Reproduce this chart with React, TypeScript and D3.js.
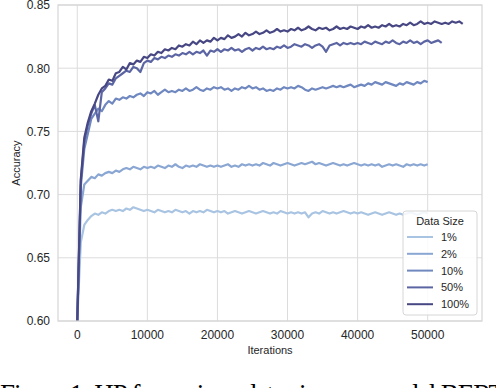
import React, { useRef, useEffect } from "react";
import * as d3 from "d3";

// logged every 500 iterations
const step = 500;
const sizeLabels = ["1%", "2%", "10%", "50%", "100%"];
const lineColors = ["#a8c4e2", "#8aa6d3", "#7088c0", "#5c65a3", "#474784"];

const acc1 = [
  0.600, 0.662, 0.676, 0.680, 0.683, 0.685, 0.684, 0.686, 0.685, 0.687, 0.688,
  0.687, 0.688, 0.687, 0.689, 0.688, 0.690, 0.689, 0.688, 0.687, 0.688,
  0.687, 0.686, 0.688, 0.687, 0.686, 0.687, 0.686, 0.688, 0.687, 0.686,
  0.687, 0.685, 0.687, 0.686, 0.687, 0.686, 0.688, 0.687, 0.686, 0.687,
  0.686, 0.687, 0.685, 0.686, 0.687, 0.686, 0.685, 0.686, 0.687, 0.686,
  0.685, 0.686, 0.687, 0.686, 0.685, 0.686, 0.685, 0.687, 0.686, 0.685,
  0.686, 0.685, 0.686, 0.685, 0.686, 0.682, 0.685, 0.686, 0.685, 0.687,
  0.686, 0.685, 0.686, 0.685, 0.686, 0.687, 0.686, 0.685, 0.686, 0.685,
  0.686, 0.685, 0.684, 0.685, 0.686, 0.685, 0.684, 0.685, 0.686, 0.685,
  0.684, 0.685, 0.684, 0.685, 0.686, 0.685, 0.684, 0.685, 0.686, 0.685,
];
const acc2 = [
  0.600, 0.690, 0.708, 0.711, 0.714, 0.713, 0.716, 0.715, 0.717, 0.718, 0.717,
  0.719, 0.718, 0.720, 0.721, 0.720, 0.722, 0.721, 0.720, 0.722, 0.721,
  0.722, 0.721, 0.723, 0.722, 0.721, 0.723, 0.722, 0.724, 0.722, 0.721,
  0.723, 0.722, 0.723, 0.722, 0.724, 0.723, 0.722, 0.723, 0.722, 0.723,
  0.722, 0.723, 0.724, 0.722, 0.723, 0.722, 0.724, 0.723, 0.724, 0.723,
  0.724, 0.723, 0.725, 0.724, 0.723, 0.725, 0.724, 0.723, 0.724, 0.725,
  0.724, 0.723, 0.724, 0.725, 0.724, 0.725, 0.726, 0.724, 0.725, 0.724,
  0.723, 0.724, 0.725, 0.724, 0.723, 0.724, 0.723, 0.724, 0.725, 0.724,
  0.723, 0.724, 0.723, 0.724, 0.723, 0.724, 0.722, 0.723, 0.724, 0.723,
  0.724, 0.723, 0.722, 0.724, 0.723, 0.724, 0.723, 0.724, 0.723, 0.724,
];
const acc10 = [
  0.600, 0.706, 0.736, 0.748, 0.760, 0.764, 0.768, 0.766, 0.771, 0.774, 0.772,
  0.776, 0.775, 0.777, 0.776, 0.778, 0.777, 0.779, 0.780, 0.778, 0.781,
  0.780, 0.782, 0.779, 0.781, 0.783, 0.781, 0.782, 0.781, 0.783, 0.782,
  0.784, 0.782, 0.783, 0.785, 0.783, 0.782, 0.784, 0.783, 0.785, 0.784,
  0.785, 0.783, 0.784, 0.782, 0.784, 0.783, 0.785, 0.784, 0.786, 0.784,
  0.785, 0.783, 0.784, 0.782, 0.783, 0.782, 0.784, 0.783, 0.785, 0.784,
  0.785, 0.784, 0.786, 0.785, 0.783, 0.782, 0.784, 0.783, 0.784, 0.785,
  0.784, 0.785, 0.786, 0.785, 0.786, 0.785, 0.786, 0.787, 0.785, 0.786,
  0.787, 0.786, 0.788, 0.787, 0.789, 0.788, 0.787, 0.789, 0.788, 0.787,
  0.786, 0.788, 0.787, 0.789, 0.788, 0.787, 0.789, 0.788, 0.790, 0.789,
];
const acc50 = [
  0.600, 0.710, 0.742, 0.755, 0.764, 0.771, 0.758, 0.781, 0.784, 0.788, 0.787,
  0.792, 0.794, 0.796, 0.798, 0.797, 0.801, 0.800, 0.797, 0.804, 0.806,
  0.805, 0.808, 0.807, 0.809, 0.808, 0.810, 0.809, 0.811, 0.810, 0.812,
  0.811, 0.813, 0.811, 0.813, 0.812, 0.814, 0.810, 0.814, 0.813, 0.815,
  0.813, 0.815, 0.814, 0.816, 0.814, 0.815, 0.813, 0.815, 0.816, 0.814,
  0.816, 0.815, 0.817, 0.815, 0.816, 0.815, 0.817, 0.816, 0.818, 0.816,
  0.817, 0.819, 0.818, 0.817, 0.819, 0.818, 0.816, 0.818, 0.819, 0.817,
  0.813, 0.818, 0.819, 0.820, 0.818, 0.820, 0.819, 0.820, 0.819, 0.820,
  0.819, 0.821, 0.820, 0.819, 0.821, 0.820, 0.819, 0.821, 0.820, 0.822,
  0.820, 0.819, 0.821, 0.820, 0.822, 0.820, 0.821, 0.819, 0.821, 0.822,
  0.820, 0.821, 0.822, 0.820,
];
const acc100 = [
  0.600, 0.712, 0.745, 0.757, 0.766, 0.772, 0.779, 0.784, 0.786, 0.791, 0.790,
  0.796, 0.797, 0.801, 0.799, 0.804, 0.803, 0.806, 0.805, 0.809, 0.808,
  0.811, 0.810, 0.813, 0.812, 0.815, 0.814, 0.816, 0.815, 0.818, 0.817,
  0.819, 0.818, 0.821, 0.819, 0.822, 0.820, 0.822, 0.821, 0.824, 0.822,
  0.824, 0.823, 0.826, 0.824, 0.825, 0.827, 0.825, 0.828, 0.826, 0.827,
  0.829, 0.827, 0.828, 0.830, 0.828, 0.829, 0.831, 0.829, 0.830, 0.829,
  0.831, 0.830, 0.832, 0.830, 0.831, 0.833, 0.831, 0.830, 0.832, 0.831,
  0.832, 0.830, 0.831, 0.833, 0.831, 0.832, 0.831, 0.833, 0.832, 0.831,
  0.833, 0.832, 0.834, 0.832, 0.833, 0.832, 0.834, 0.833, 0.835, 0.833,
  0.834, 0.833, 0.835, 0.834, 0.836, 0.834, 0.835, 0.837, 0.835, 0.836,
  0.835, 0.837, 0.836, 0.835, 0.836, 0.835, 0.837, 0.836, 0.837, 0.835,
];
const seriesValues = [acc1, acc2, acc10, acc50, acc100];

const xTicks = [0, 10000, 20000, 30000, 40000, 50000];
const yTicks = [0.6, 0.65, 0.7, 0.75, 0.8, 0.85];

const W = 496;
const H = 388;
const sans = "'Liberation Sans', Arial, sans-serif";

export default function App() {
  const ref = useRef<SVGSVGElement>(null);

  useEffect(() => {
    const svg = d3.select(ref.current);
    svg.selectAll("*").remove();

    const left = 58, right = 482, top = 5, bottom = 321;
    const x = d3.scaleLinear().domain([-2750, 57750]).range([left, right]);
    const y = d3.scaleLinear().domain([0.6, 0.85]).range([bottom, top]);

    svg.append("rect").attr("width", W).attr("height", H).attr("fill", "#fff");

    // grid
    const grid = svg.append("g").attr("stroke", "#dcdcdc").attr("stroke-width", 1);
    grid.selectAll(".gx").data(xTicks).join("line")
      .attr("x1", (d) => x(d)).attr("x2", (d) => x(d))
      .attr("y1", top).attr("y2", bottom);
    grid.selectAll(".gy").data(yTicks).join("line")
      .attr("x1", left).attr("x2", right)
      .attr("y1", (d) => y(d)).attr("y2", (d) => y(d));

    svg.append("clipPath").attr("id", "plotclip")
      .append("rect").attr("x", left).attr("y", top - 2)
      .attr("width", right - left).attr("height", bottom - top + 4);

    const line = d3.line<number>()
      .x((d, i) => x(i * step))
      .y((d) => y(d));

    svg.append("g").attr("clip-path", "url(#plotclip)")
      .selectAll("path").data(seriesValues).join("path")
      .attr("d", (d) => line(d))
      .attr("fill", "none")
      .attr("stroke", (d, i) => lineColors[i])
      .attr("stroke-width", 2.2)
      .attr("stroke-linejoin", "round");

    // frame
    svg.append("rect")
      .attr("x", left).attr("y", top)
      .attr("width", right - left).attr("height", bottom - top)
      .attr("fill", "none").attr("stroke", "#d6d6d6").attr("stroke-width", 1.2);

    // tick labels
    svg.append("g").attr("font-family", sans).attr("font-size", 12).attr("fill", "#262626")
      .attr("text-anchor", "middle")
      .selectAll("text").data(xTicks).join("text")
      .attr("x", (d) => x(d)).attr("y", 338.5)
      .text((d) => String(d));
    svg.append("g").attr("font-family", sans).attr("font-size", 12).attr("fill", "#262626")
      .attr("text-anchor", "end")
      .selectAll("text").data(yTicks).join("text")
      .attr("x", 50).attr("y", (d) => y(d) + 4.3)
      .text((d) => d3.format(".2f")(d));

    svg.append("text")
      .attr("x", (left + right) / 2).attr("y", 354)
      .attr("text-anchor", "middle").attr("font-family", sans)
      .attr("font-size", 11).attr("fill", "#262626")
      .text("Iterations");
    svg.append("text")
      .attr("transform", `translate(20,${(top + bottom) / 2}) rotate(-90)`)
      .attr("text-anchor", "middle").attr("font-family", sans)
      .attr("font-size", 11).attr("fill", "#262626")
      .text("Accuracy");

    // legend
    const lg = svg.append("g").attr("font-family", sans).attr("font-size", 11).attr("fill", "#262626");
    lg.append("rect")
      .attr("x", 403).attr("y", 211).attr("width", 74).attr("height", 104)
      .attr("rx", 3).attr("fill", "#fff").attr("fill-opacity", 0.85)
      .attr("stroke", "#d6d6d6").attr("stroke-width", 1);
    lg.append("text").attr("x", 440).attr("y", 224.5).attr("text-anchor", "middle").text("Data Size");
    const items = lg.selectAll(".it").data(sizeLabels).join("g")
      .attr("transform", (d, i) => `translate(0,${237 + i * 16.8})`);
    items.append("line")
      .attr("x1", 407).attr("x2", 433).attr("y1", 0).attr("y2", 0)
      .attr("stroke", (d, i) => lineColors[i]).attr("stroke-width", 2);
    items.append("text").attr("x", 441).attr("y", 4).text((d) => d);

    // caption (cut off by the page bottom)
    svg.append("text")
      .attr("x", 0).attr("y", 403)
      .attr("font-family", "'Liberation Serif', 'Times New Roman', serif")
      .attr("font-size", 27).attr("fill", "#000")
      .attr("textLength", 505).attr("lengthAdjust", "spacing")
      .text("Figure 1: HP for various data sizes on model BERT");
  }, []);

  return (
    <svg
      ref={ref}
      width={W}
      height={H}
      style={{ position: "absolute", left: 0, top: 0, display: "block" }}
    />
  );
}
